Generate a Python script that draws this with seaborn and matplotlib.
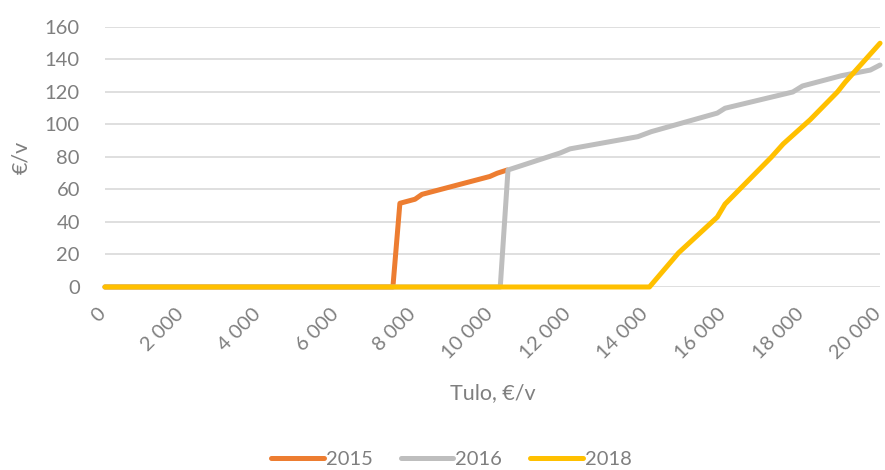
import pandas as pd
import numpy as np
import seaborn as sns
import matplotlib.pyplot as plt
import matplotlib.transforms as mtransforms
from matplotlib.ticker import FuncFormatter

sns.set_theme(style='white')
plt.rcParams['font.family'] = ['Lato', 'DejaVu Sans']

# Tulo (€/v) ja maksu (€/v) eri vuosille
x_2015 = [0, 7430, 7610, 8000, 8180, 9930, 10120, 10380]
y_2015 = [0, 0, 51.5, 54, 57, 68, 70, 72]

x_2016 = [0, 10200, 10400, 11750, 12000, 13750, 14100, 15800, 16000, 17750, 18000, 19000, 19750, 20000]
y_2016 = [0, 0, 72, 82.5, 85, 92.5, 95.6, 107, 110, 120, 123.7, 130, 133.5, 136.6]

x_2018 = [0, 14050, 14800, 15800, 16000, 17200, 17500, 18200, 18900, 19100, 20000]
y_2018 = [0, 0, 21, 43, 51, 80, 88, 103, 120, 126, 150]

years = ['2015', '2016', '2018']
colors = ['#ED7D31', '#BEBEBE', '#FFC000']

df = pd.concat([
    pd.DataFrame({'tulo': x_2015, 'maksu': y_2015, 'vuosi': '2015'}),
    pd.DataFrame({'tulo': x_2016, 'maksu': y_2016, 'vuosi': '2016'}),
    pd.DataFrame({'tulo': x_2018, 'maksu': y_2018, 'vuosi': '2018'}),
])

fig = plt.figure(figsize=(8.85, 4.7), dpi=100)
ax = fig.add_axes([0.1186, 0.3894, 0.8758, 0.5532])

sns.lineplot(data=df, x='tulo', y='maksu', hue='vuosi', hue_order=years,
             palette=colors, estimator=None, sort=False, linewidth=3.6,
             solid_capstyle='round', ax=ax)

grey = '#7F7F7F'
ax.set_xlim(0, 20000)
ax.set_ylim(0, 160)
ax.set_yticks(np.arange(0, 161, 20))
ax.set_xticks(np.arange(0, 20001, 2000))
ax.xaxis.set_major_formatter(FuncFormatter(lambda v, p: f'{int(v):,}'.replace(',', ' ')))
ax.grid(axis='y', color='#D9D9D9', linewidth=1.2)
ax.set_axisbelow(True)
for s in ax.spines.values():
    s.set_visible(False)
ax.tick_params(axis='y', length=0, pad=18, labelsize=14.5, labelcolor=grey)
ax.tick_params(axis='x', length=0, pad=6, labelsize=14.5, labelcolor=grey)
shift = mtransforms.ScaledTranslation(3 / 72, -7 / 72, fig.dpi_scale_trans)
for lab in ax.get_xticklabels():
    lab.set_rotation(45)
    lab.set_ha('right')
    lab.set_va('top')
    lab.set_transform(lab.get_transform() + shift)
ax.set_xlabel('Tulo, €/v', fontsize=15.5, color=grey, labelpad=15)
ax.set_ylabel('€/v', fontsize=15.5, color=grey, labelpad=10)

handles, labels = ax.get_legend_handles_labels()
ax.get_legend().remove()
leg = fig.legend(handles, labels, loc='lower center', bbox_to_anchor=(0.51, -0.035),
                 ncol=3, frameon=False, fontsize=14.5, handlelength=2.6,
                 handletextpad=0.1, columnspacing=1.4, labelcolor=grey)
for ln in leg.get_lines():
    ln.set_linewidth(3.6)
    ln.set_solid_capstyle('round')

for ln in ax.get_lines():
    ln.set_clip_on(False)

plt.savefig('out.png', dpi=100)
